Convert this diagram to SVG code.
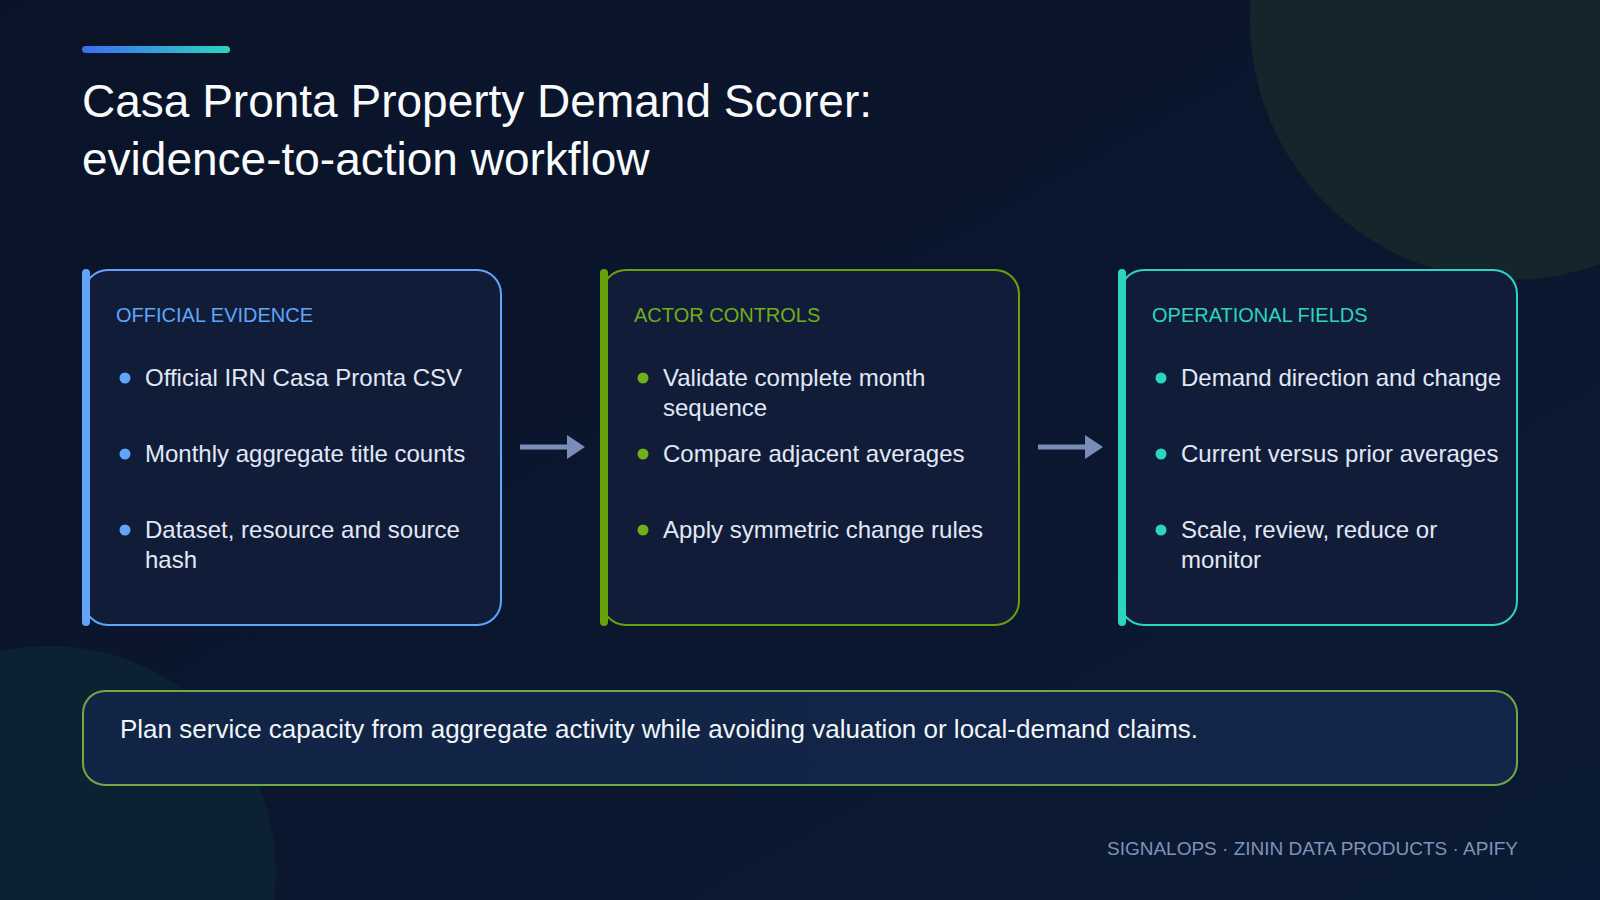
<svg xmlns="http://www.w3.org/2000/svg" width="1600" height="900" viewBox="0 0 1600 900">
  <defs>
    <linearGradient id="bg" x1="0" y1="0" x2="1" y2="1">
      <stop offset="0" stop-color="#0a1328"/>
      <stop offset="1" stop-color="#0b1a34"/>
    </linearGradient>
    <linearGradient id="accent" x1="0" y1="0" x2="1" y2="0">
      <stop offset="0" stop-color="#3b6ef0"/>
      <stop offset="1" stop-color="#2dd4bf"/>
    </linearGradient>
    <linearGradient id="note" x1="0" y1="0" x2="1" y2="0">
      <stop offset="0" stop-color="#112445"/>
      <stop offset="1" stop-color="#13264a"/>
    </linearGradient>
    <marker id="arrow" viewBox="0 0 18 24" refX="0" refY="12" markerWidth="18" markerHeight="24" markerUnits="userSpaceOnUse" orient="auto">
      <path d="M0,0 L18,12 L0,24 Z" fill="#7a8db8"/>
    </marker>
    <style>
      .card { fill: #111d38; stroke-width: 2; }
      .head { font-family: "Liberation Sans", Arial, sans-serif; font-size: 20px; }
      .item { font-family: "Liberation Sans", Arial, sans-serif; font-size: 24px; fill: #e1e8f6; }
      .title { font-family: "Liberation Sans", Arial, sans-serif; font-size: 46px; fill: #f8fafc; }
      .conn { stroke: #7a8db8; stroke-width: 5; fill: none; }
    </style>
  </defs>

  <rect x="0" y="0" width="1600" height="900" fill="url(#bg)"/>
  <circle cx="1510" cy="20" r="260" fill="#14262b"/>
  <circle cx="50" cy="872" r="226" fill="#0c2131"/>

  <rect x="82" y="46" width="148" height="7" rx="3.5" fill="url(#accent)"/>
  <text class="title" x="82" y="117">Casa Pronta Property Demand Scorer:</text>
  <text class="title" x="82" y="175">evidence-to-action workflow</text>

  <g id="connectors">
    <line class="conn" x1="520" y1="447" x2="567" y2="447" marker-end="url(#arrow)"/>
    <line class="conn" x1="1038" y1="447" x2="1085" y2="447" marker-end="url(#arrow)"/>
  </g>

  <g id="official-evidence">
    <rect class="card" x="84" y="270" width="417" height="355" rx="24" stroke="#60a5fa"/>
    <rect x="82" y="269" width="8" height="357" rx="4" fill="#60a5fa"/>
    <text class="head" x="116" y="322" fill="#60a5fa">OFFICIAL EVIDENCE</text>
    <g fill="#60a5fa">
      <circle cx="125" cy="378" r="5.5"/>
      <circle cx="125" cy="454" r="5.5"/>
      <circle cx="125" cy="530" r="5.5"/>
    </g>
    <text class="item" x="145" y="386">Official IRN Casa Pronta CSV</text>
    <text class="item" x="145" y="462">Monthly aggregate title counts</text>
    <text class="item" x="145" y="538">Dataset, resource and source</text>
    <text class="item" x="145" y="568">hash</text>
  </g>

  <g id="actor-controls">
    <rect class="card" x="602" y="270" width="417" height="355" rx="24" stroke="#65a30d"/>
    <rect x="600" y="269" width="8" height="357" rx="4" fill="#65a30d"/>
    <text class="head" x="634" y="322" fill="#6fae1c">ACTOR CONTROLS</text>
    <g fill="#6fae1c">
      <circle cx="643" cy="378" r="5.5"/>
      <circle cx="643" cy="454" r="5.5"/>
      <circle cx="643" cy="530" r="5.5"/>
    </g>
    <text class="item" x="663" y="386">Validate complete month</text>
    <text class="item" x="663" y="416">sequence</text>
    <text class="item" x="663" y="462">Compare adjacent averages</text>
    <text class="item" x="663" y="538">Apply symmetric change rules</text>
  </g>

  <g id="operational-fields">
    <rect class="card" x="1120" y="270" width="397" height="355" rx="24" stroke="#2dd4bf"/>
    <rect x="1118" y="269" width="8" height="357" rx="4" fill="#2dd4bf"/>
    <text class="head" x="1152" y="322" fill="#2dd4bf">OPERATIONAL FIELDS</text>
    <g fill="#2dd4bf">
      <circle cx="1161" cy="378" r="5.5"/>
      <circle cx="1161" cy="454" r="5.5"/>
      <circle cx="1161" cy="530" r="5.5"/>
    </g>
    <text class="item" x="1181" y="386">Demand direction and change</text>
    <text class="item" x="1181" y="462">Current versus prior averages</text>
    <text class="item" x="1181" y="538">Scale, review, reduce or</text>
    <text class="item" x="1181" y="568">monitor</text>
  </g>

  <g id="summary">
    <rect x="83" y="691" width="1434" height="94" rx="22" fill="url(#note)" stroke="#73a745" stroke-width="2"/>
    <text x="120" y="738" font-family="&quot;Liberation Sans&quot;, Arial, sans-serif" font-size="26" fill="#f1f5f9">Plan service capacity from aggregate activity while avoiding valuation or local-demand claims.</text>
  </g>

  <text x="1518" y="855" text-anchor="end" font-family="&quot;Liberation Sans&quot;, Arial, sans-serif" font-size="19" fill="#7f93b8">SIGNALOPS · ZININ DATA PRODUCTS · APIFY</text>
</svg>
